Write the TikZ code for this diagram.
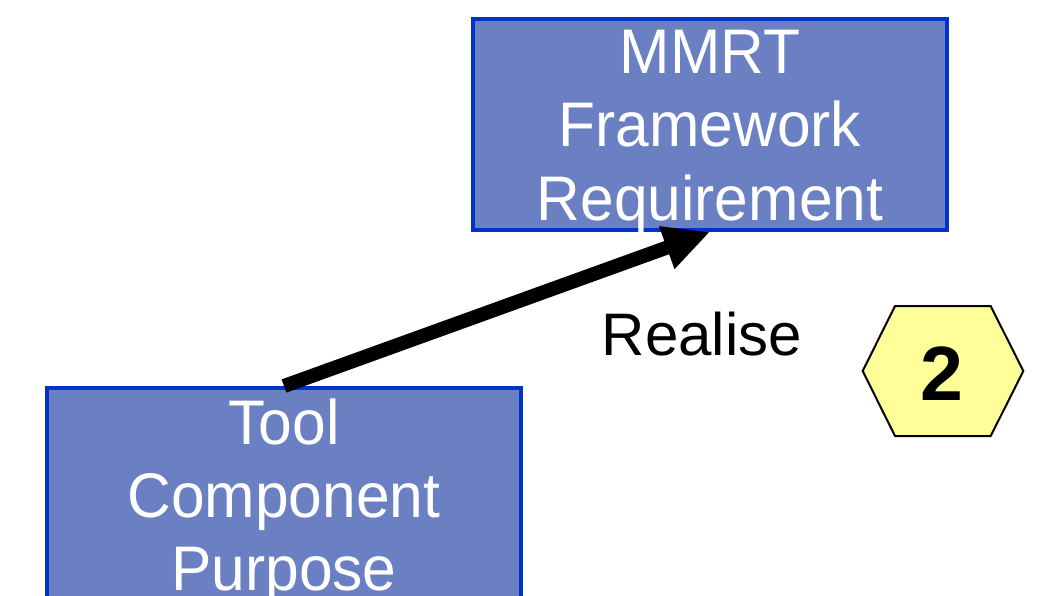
\documentclass[tikz,border=0pt]{standalone}
\usepackage{fontspec}
\setmainfont{Liberation Sans}
\newfontfamily\boxfont[FakeStretch=0.96]{Liberation Sans}
\usetikzlibrary{arrows.meta}

\definecolor{boxfill}{RGB}{106,128,194}
\definecolor{boxline}{RGB}{0,51,204}
\definecolor{badgefill}{RGB}{255,255,153}

\begin{document}
\begin{tikzpicture}[x=1pt,y=-1pt,
    reqbox/.style={draw=boxline, line width=4pt, fill=boxfill,
      minimum width=474pt, minimum height=211pt, inner sep=0pt},
    boxtext/.style={text=white, align=center, inner sep=0pt, anchor=north,
      font=\boxfont\fontsize{63}{73.3}\selectfont},
    plaintext/.style={inner sep=0pt, anchor=base},
    realise/.style={line width=14pt, -{Triangle[length=46pt,width=42pt]}}]
  \useasboundingbox (0,0) rectangle (1044,595);
  \clip (0,0) rectangle (1044,595);

  % the two requirement boxes
  \node[reqbox] (mmrt) at (710,124.5) {};
  \node[reqbox] (tool) at (284,493.5) {};
  \node[boxtext] (mmrtlabel) at (710,30) {MMRT\\Framework\\Requirement};
  \node[boxtext] (toollabel) at (284,398.5) {Tool\\Component\\Purpose};

  % realisation arrow
  \draw[realise] (tool.north) -- (mmrt.south);
  \node[plaintext, font=\fontsize{60}{72}\selectfont] (rlabel) at (702,355) {Realise};

  % numbered hexagon badge
  \draw[line width=2pt, fill=badgefill, line join=miter]
    (862.7,371) -- (895,306) -- (990.7,306) -- (1023.3,371)
    -- (990.7,436) -- (895,436) -- cycle;
  \node[plaintext, font=\fontsize{77}{90}\selectfont\bfseries] (badge) at (942,400) {2};
\end{tikzpicture}
\end{document}
